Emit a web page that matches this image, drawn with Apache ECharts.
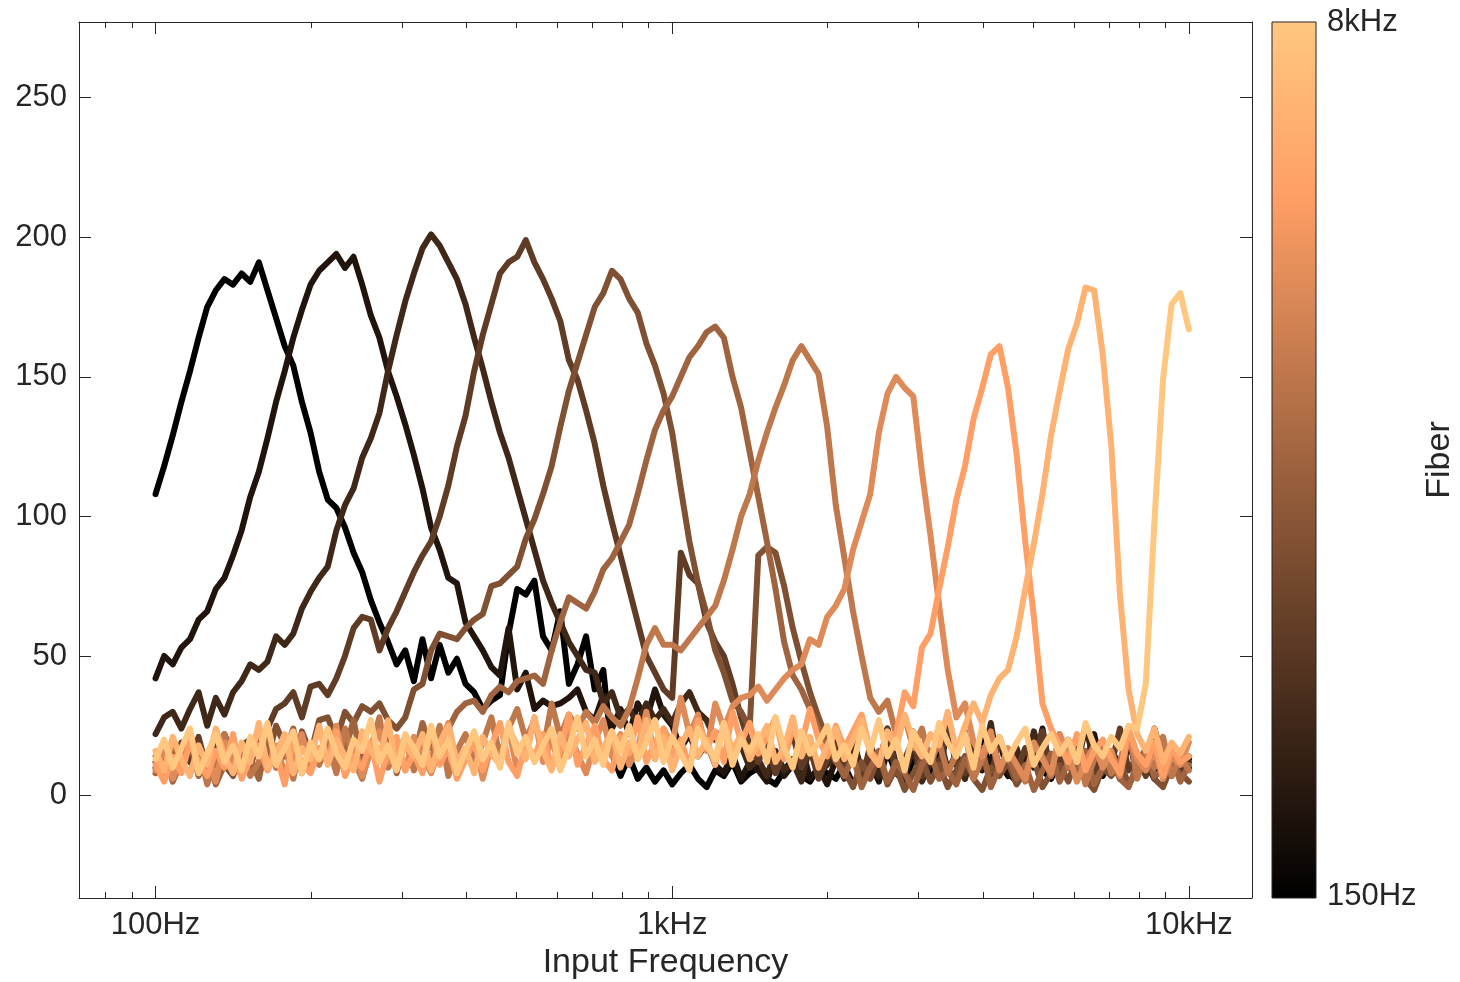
<!DOCTYPE html>
<html>
<head>
<meta charset="utf-8">
<title>Fiber tuning curves</title>
<script src="https://cdn.jsdelivr.net/npm/echarts@6/dist/echarts.min.js"></script>
<style>
  html, body { margin: 0; padding: 0; background: #ffffff; }
  #chart { width: 1460px; height: 982px; }
</style>
</head>
<body>
<div id="chart"></div>
<script>
// Input-frequency sweep: log-spaced tones, 60 per decade, 100 Hz .. 10 kHz
const SWEEP_START_HZ = 100;
const SWEEP_END_HZ = 10000;
const SWEEP_POINTS = 121;

const X_TICKS = [100, 1000, 10000];
const X_TICK_LABELS = ['100Hz', '1kHz', '10kHz'];
const Y_TICKS = [0, 50, 100, 150, 200, 250];
const COLORBAR_TOP_LABEL = '8kHz';
const COLORBAR_BOTTOM_LABEL = '150Hz';

// Response of each fiber along the sweep, lowest characteristic frequency first
const fiber01 = [
  108,118,129,141,152,164,175,181,185,183,
  187,184,191,181,171,161,154,141,130,116,
  106,103,96,87,80,70,62,55,47,52,
  41,56,42,54,44,49,40,37,31,34,
  36,58,74,72,77,57,52,66,40,47,
  57,38,45,15,7,14,6,10,5,9,
  4,8,11,6,3,9,7,12,5,8,
  10,6,4,9,13,7,5,10,8,6,
  11,4,9,7,12,16,8,5,13,10,
  7,18,9,6,14,11,20,8,12,7,
  15,10,22,9,6,13,17,8,11,19,
  7,14,10,21,9,12,6,16,11,8,
  13
];
const fiber02 = [
  42,50,47,53,56,63,66,74,78,86,
  95,107,116,128,141,152,164,174,183,188,
  191,194,189,193,183,172,164,152,143,133,
  122,110,96,88,78,76,62,57,52,46,
  43,60,38,44,31,34,32,33,35,38,
  30,27,36,24,31,22,33,27,38,29,
  25,17,22,14,19,11,8,15,6,12,
  9,5,14,7,11,18,6,10,4,13,
  8,21,7,12,5,16,10,6,23,9,
  14,7,25,11,6,18,9,13,20,8,
  5,15,10,24,7,12,17,6,11,22,
  9,14,6,19,11,8,24,13,7,16,
  10
];
const fiber03 = [
  22,28,30,24,31,37,25,35,29,37,
  41,47,45,48,57,54,58,67,73,78,
  82,95,104,110,121,128,137,152,165,177,
  187,196,201,197,191,185,176,164,153,141,
  130,121,110,99,88,77,69,62,55,50,
  45,44,33,37,28,31,26,33,27,31,
  26,33,37,30,27,20,24,14,18,10,
  13,7,16,9,12,5,18,8,11,14,
  6,20,9,13,7,24,11,8,17,5,
  12,22,9,15,6,19,10,26,8,13,
  17,7,23,11,14,6,20,9,25,12,
  8,16,11,21,7,13,18,9,15,10,
  12
];
const fiber04 = [
  10,16,8,19,12,21,9,17,22,14,
  18,20,15,24,31,33,37,28,39,40,
  36,42,50,60,64,63,52,60,66,73,
  80,86,91,100,111,125,136,152,165,176,
  187,191,193,199,191,185,178,170,156,149,
  138,126,111,98,86,74,62,50,44,38,
  35,87,79,76,62,55,50,40,28,18,
  12,20,8,15,22,10,17,6,13,19,
  9,14,5,18,11,24,8,13,20,7,
  16,10,26,12,8,19,14,6,21,11,
  9,17,12,23,7,15,10,20,13,8,
  18,11,24,9,14,7,19,12,16,10,
  14
];
const fiber05 = [
  12,6,17,9,20,8,14,22,11,7,
  16,10,21,13,25,18,9,23,15,27,
  28,20,30,26,32,30,33,27,24,28,
  38,40,52,58,57,56,60,63,65,75,
  76,79,82,92,99,108,118,132,145,155,
  165,175,180,188,185,178,173,162,154,144,
  130,110,91,76,65,52,44,34,30,24,
  86,89,87,75,60,48,37,28,20,12,
  9,3,12,6,15,4,10,2,8,13,
  5,11,3,9,14,6,2,10,7,12,
  4,9,13,3,8,11,5,14,6,2,
  10,7,12,4,9,15,6,3,11,8,
  5
];
const fiber06 = [
  8,15,5,12,19,7,14,4,11,17,
  9,13,6,20,10,15,24,8,18,12,
  22,9,16,27,11,19,14,24,8,21,
  13,26,17,21,24,30,33,34,30,36,
  39,37,41,42,43,40,52,62,71,69,
  67,73,81,85,91,97,108,120,131,138,
  143,150,157,161,166,168,164,150,139,123,
  107,91,74,55,43,38,31,24,18,13,
  7,14,3,10,16,5,12,8,2,11,
  15,6,9,4,13,7,17,3,10,14,
  6,11,2,9,15,5,12,8,16,4,
  10,13,6,3,11,17,7,9,14,5,
  11
];
const fiber07 = [
  14,6,20,11,8,17,4,13,22,9,
  16,7,12,25,10,18,6,21,14,11,
  19,8,24,13,6,17,28,10,15,21,
  9,18,12,25,7,16,22,11,19,28,
  14,24,31,20,27,16,33,21,29,24,
  30,26,32,28,25,31,42,54,60,54,
  54,52,56,60,64,68,77,88,100,108,
  120,130,139,147,156,161,156,151,132,104,
  85,66,50,35,30,34,22,28,17,24,
  12,19,8,15,23,6,13,20,9,16,
  11,5,18,14,7,22,10,16,4,13,
  19,8,12,24,6,15,10,21,7,14,
  9
];
const fiber08 = [
  9,17,6,13,21,10,15,5,19,12,
  7,16,24,11,18,8,14,22,9,17,
  13,25,10,19,7,16,23,12,18,9,
  21,14,8,17,26,11,15,20,6,18,
  13,24,9,16,28,12,20,10,23,15,
  8,19,27,14,22,11,17,30,13,24,
  18,35,22,29,16,33,24,32,35,36,
  39,34,38,42,45,47,56,54,64,68,
  74,88,98,108,130,144,150,146,143,116,
  93,68,45,28,33,19,14,23,9,17,
  11,6,19,13,8,22,15,5,12,18,
  10,16,7,21,13,9,17,6,14,11,
  19
];
const fiber09 = [
  11,5,14,8,19,12,7,16,10,22,
  6,13,18,9,15,4,20,11,8,17,
  12,23,7,14,10,19,5,16,21,9,
  15,8,24,11,17,6,13,20,9,18,
  26,12,7,19,14,22,10,16,29,11,
  18,25,13,9,21,15,28,12,19,24,
  14,20,10,27,17,23,12,30,19,26,
  15,21,28,13,24,18,31,20,14,25,
  17,23,29,16,12,22,22,37,32,53,
  58,74,89,106,118,135,146,158,161,146,
  122,91,64,33,24,18,12,22,9,16,
  20,13,8,24,15,11,19,7,17,12,
  14
];
const fiber10 = [
  16,9,21,13,7,18,11,24,14,8,
  19,12,26,10,15,22,8,17,13,25,
  11,20,14,9,23,16,12,27,10,18,
  14,22,9,19,25,12,17,8,21,15,
  11,24,18,13,28,16,9,22,14,20,
  26,12,17,23,10,19,15,27,13,21,
  9,18,24,14,20,11,26,16,22,13,
  19,25,12,17,28,14,21,10,18,24,
  13,20,27,15,11,23,17,29,19,14,
  22,18,30,16,25,33,26,36,42,45,
  57,74,90,108,129,145,160,169,182,181,
  158,125,72,38,22,16,24,12,19,15,
  21
];
const fiber11 = [
  13,20,10,17,24,8,15,22,12,18,
  9,21,14,26,11,17,23,8,19,13,
  24,15,10,20,16,27,12,18,9,22,
  17,11,25,14,20,8,16,23,13,19,
  10,26,15,21,12,18,24,9,17,28,
  14,20,11,23,16,25,13,19,27,12,
  21,15,9,24,18,13,26,11,20,16,
  22,12,28,17,10,23,15,19,25,13,
  18,11,24,16,27,14,20,9,23,17,
  12,26,19,14,22,10,25,16,21,13,
  19,24,11,17,22,15,20,12,26,18,
  14,21,17,25,24,40,98,149,176,180,
  167
];

const FIBERS = [fiber01, fiber02, fiber03, fiber04, fiber05, fiber06,
                fiber07, fiber08, fiber09, fiber10, fiber11];

// ---- layout and style ----
const AXIS_COLOR = '#262626';
const FONT = '"Liberation Sans", Arial, Helvetica, sans-serif';
const TICK_FONT_SIZE = 31;
const TITLE_FONT_SIZE = 34;
const GRID = { left: 79, top: 22, right: 208, bottom: 84 };
const X_MIN = 71.1, X_MAX = 13250;
const Y_MIN = -36.7, Y_MAX = 277.1;

// copper colormap, t in [0, 1]
function copper(t) {
  const r = Math.min(1, 1.25 * t), g = 0.7812 * t, b = 0.4975 * t;
  const h = v => Math.round(v * 255).toString(16).padStart(2, '0');
  return '#' + h(r) + h(g) + h(b);
}

const sweepHz = [];
for (let k = 0; k < SWEEP_POINTS; k++) {
  sweepHz.push(SWEEP_START_HZ * Math.pow(SWEEP_END_HZ / SWEEP_START_HZ, k / (SWEEP_POINTS - 1)));
}

// minor log ticks (2..9 within each decade) inside the axis range
const minorTicks = [];
for (let dec = 10; dec <= 10000; dec *= 10) {
  for (let m = 2; m <= 9; m++) {
    const v = m * dec;
    if (v > X_MIN && v < X_MAX) minorTicks.push(v);
  }
}

function xLabel(v) {
  for (let i = 0; i < X_TICKS.length; i++) {
    if (Math.abs(Math.log10(v) - Math.log10(X_TICKS[i])) < 1e-6) return X_TICK_LABELS[i];
  }
  return '';
}

const lineStyle = { color: AXIS_COLOR, width: 1 };

function xAxisDef(position, ticks, tickLen, isMain) {
  return {
    type: 'log', logBase: 10, min: X_MIN, max: X_MAX, position,
    gridIndex: 0,
    axisLine: { show: isMain, onZero: false, lineStyle },
    axisTick: { show: true, inside: true, length: tickLen, customValues: ticks, lineStyle },
    axisLabel: { show: false },
    splitLine: { show: false },
    minorTick: { show: false },
    minorSplitLine: { show: false },
    axisPointer: { show: false },
    silent: true
  };
}

const xMain = xAxisDef('bottom', X_TICKS, 12, true);
xMain.axisLabel = {
  show: true, customValues: X_TICKS, formatter: xLabel, margin: 12,
  color: AXIS_COLOR, fontSize: TICK_FONT_SIZE, fontFamily: FONT
};
xMain.name = 'Input Frequency';
xMain.nameLocation = 'middle';
xMain.nameGap = 45;
xMain.nameTextStyle = { color: AXIS_COLOR, fontSize: TITLE_FONT_SIZE, fontFamily: FONT };

function yAxisDef(position, withLabels) {
  return {
    type: 'value', min: Y_MIN, max: Y_MAX, position,
    axisLine: { show: true, onZero: false, lineStyle },
    axisTick: { show: true, inside: true, length: 12, customValues: Y_TICKS, lineStyle },
    axisLabel: withLabels ? {
      show: true, customValues: Y_TICKS, margin: 12,
      color: AXIS_COLOR, fontSize: TICK_FONT_SIZE, fontFamily: FONT
    } : { show: false },
    splitLine: { show: false },
    axisPointer: { show: false },
    silent: true
  };
}

const series = FIBERS.map((values, i) => ({
  name: 'fiber ' + (i + 1),
  type: 'line',
  xAxisIndex: 0,
  yAxisIndex: 0,
  data: values.map((v, k) => [sweepHz[k], v]),
  showSymbol: false,
  symbol: 'none',
  clip: true,
  z: 2 + i,
  lineStyle: { color: copper(i / (FIBERS.length - 1)), width: 6, cap: 'round', join: 'round' },
  emphasis: { disabled: true },
  animation: false
}));

// colorbar (copper ramp: fiber CF from bottom to top)
const CB = { x: 1272, y: 22, w: 44, h: 876 };
const colorbar = [
  {
    type: 'rect', silent: true,
    shape: { x: CB.x, y: CB.y, width: CB.w, height: CB.h },
    style: {
      fill: new echarts.graphic.LinearGradient(0, 0, 0, 1, [
        { offset: 0, color: copper(1) },
        { offset: 0.2, color: copper(0.8) },
        { offset: 1, color: copper(0) }
      ]),
      stroke: AXIS_COLOR, lineWidth: 1
    }
  },
  {
    type: 'text', silent: true, x: CB.x + 55, y: CB.y,
    style: { text: COLORBAR_TOP_LABEL, fill: AXIS_COLOR, fontSize: TICK_FONT_SIZE, fontFamily: FONT,
             align: 'left', verticalAlign: 'middle' }
  },
  {
    type: 'text', silent: true, x: CB.x + 55, y: CB.y + CB.h - 2,
    style: { text: COLORBAR_BOTTOM_LABEL, fill: AXIS_COLOR, fontSize: TICK_FONT_SIZE, fontFamily: FONT,
             align: 'left', verticalAlign: 'middle' }
  },
  {
    type: 'text', silent: true, x: 1440, y: 460, rotation: Math.PI / 2,
    style: { text: 'Fiber', fill: AXIS_COLOR, fontSize: TITLE_FONT_SIZE, fontFamily: FONT,
             align: 'center', verticalAlign: 'middle' }
  }
];

const chart = echarts.init(document.getElementById('chart'), null, { renderer: 'canvas' });
chart.setOption({
  animation: false,
  backgroundColor: '#ffffff',
  textStyle: { fontFamily: FONT },
  grid: Object.assign({ containLabel: false, outerBoundsMode: 'none' }, GRID),
  xAxis: [
    xMain,
    xAxisDef('bottom', minorTicks, 6, false),
    xAxisDef('top', X_TICKS, 12, true),
    xAxisDef('top', minorTicks, 6, false)
  ],
  yAxis: [yAxisDef('left', true), yAxisDef('right', false)],
  series,
  graphic: colorbar
});
</script>
</body>
</html>
